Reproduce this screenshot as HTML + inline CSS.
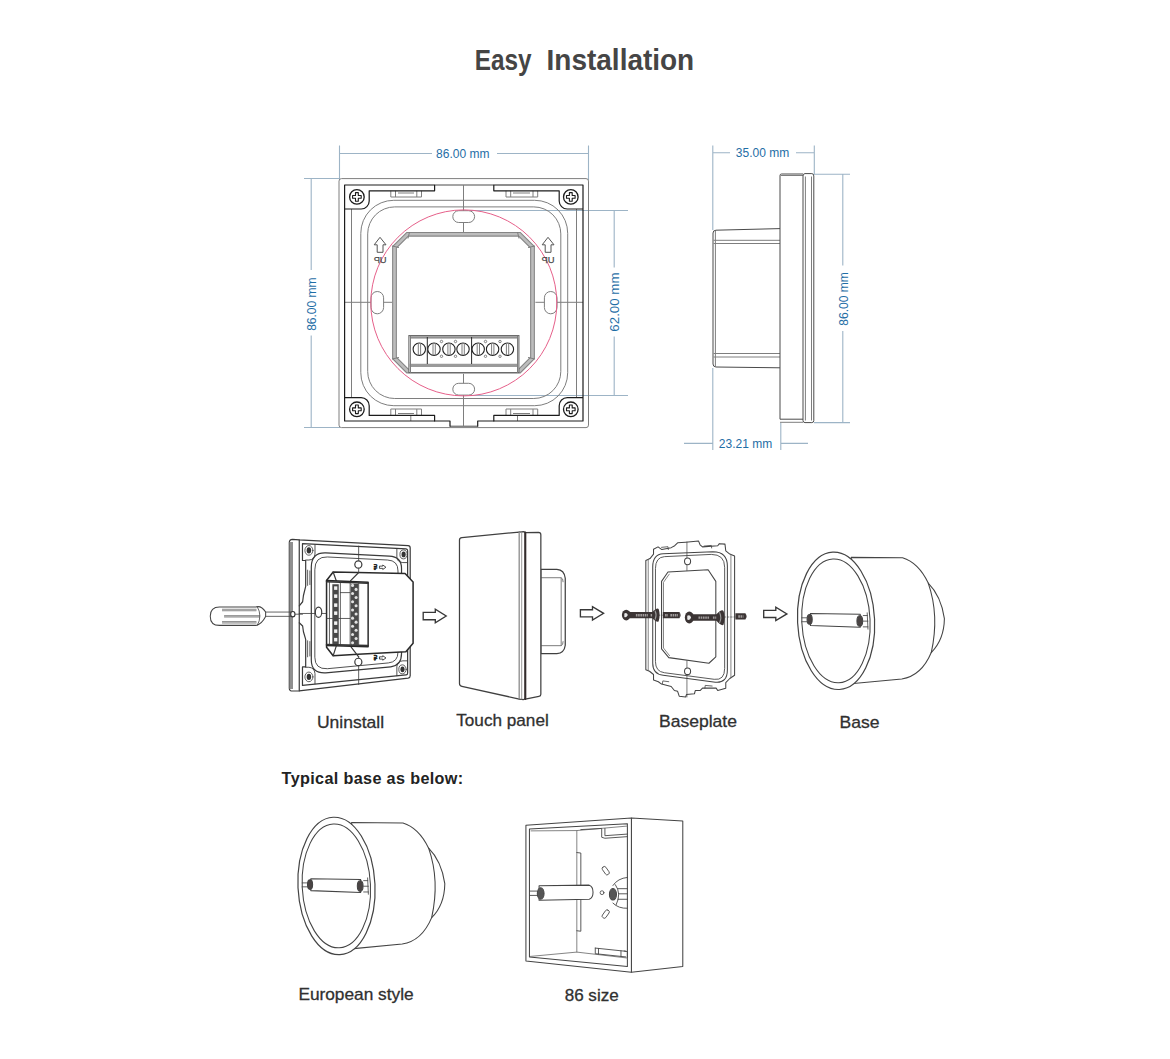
<!DOCTYPE html>
<html lang="en">
<head>
<meta charset="utf-8">
<title>Easy Installation</title>
<style>
html,body{margin:0;padding:0;background:#fff;}
body{width:1170px;height:1059px;overflow:hidden;position:relative;font-family:"Liberation Sans",sans-serif;}
svg{position:absolute;left:0;top:0;display:block;}
svg text{font-family:"Liberation Sans",sans-serif;}
.title{font-weight:700;font-size:29.5px;fill:#454545;}
.dim{font-size:12px;fill:#1f6ea6;}
.dl{stroke:#9db4c6;stroke-width:1.1;fill:none;}
.lbl{font-size:17px;fill:#303030;stroke:#303030;stroke-width:0.3px;}
.bold{font-size:16.2px;font-weight:700;fill:#222;letter-spacing:0.35px;}
.k{stroke:#1c1c1c;stroke-width:1.2;fill:none;stroke-linejoin:round;stroke-linecap:round;}
.g{stroke:#7e7e7e;stroke-width:1;fill:none;stroke-linejoin:round;}
.m{stroke:#4a4a4a;stroke-width:1;fill:none;stroke-linejoin:round;}
.s{stroke:#4a4a4a;stroke-width:1.1;fill:none;stroke-linejoin:round;stroke-linecap:round;}
.sw{stroke:#4a4a4a;stroke-width:1.1;fill:#fff;stroke-linejoin:round;stroke-linecap:round;}
</style>
</head>
<body>
<svg width="1170" height="1059" viewBox="0 0 1170 1059">
<rect width="1170" height="1059" fill="#fff"/>
<text class="title" y="69.5"><tspan x="474.8" textLength="56.8" lengthAdjust="spacingAndGlyphs">Easy</tspan> <tspan x="546.6" textLength="147.6" lengthAdjust="spacingAndGlyphs">Installation</tspan></text>

<!-- ================= FRONT VIEW ================= -->
<g id="front">
  <!-- dimensions -->
  <path class="dl" d="M339.5,145.5V180 M588.5,145.5V180 M339.5,153.5H432 M497,153.5H588.5"/>
  <text class="dim" x="462.8" y="157.5" text-anchor="middle">86.00 mm</text>
  <path class="dl" d="M304,178.5H340 M304,427.5H340 M311.2,178.5V270 M311.2,335.5V427.5"/>
  <text class="dim" transform="translate(315.7,304.2) rotate(-90)" text-anchor="middle">86.00 mm</text>
  <path class="dl" d="M470,210.5H628 M470,395.5H628 M614.2,210.5V267.5 M614.2,336.5V395.5"/>
  <text class="dim" transform="translate(618.8,302.1) rotate(-90)" text-anchor="middle" style="font-size:13.3px">62.00 mm</text>

  <!-- outer thin plate -->
  <rect class="g" x="339" y="178.6" width="249.5" height="249" rx="2.5"/>
  <!-- thin joins of inner square -->
  <path class="m" d="M434.6,185H493.8 M450,426.2H477.7"/>
  <!-- inner thin verticals -->
  <path class="g" d="M351.5,209V397.5 M576.5,209V397.5"/>
  <!-- concentric rounded squares -->
  <rect class="g" x="360.8" y="200.3" width="206.9" height="205.4" rx="33"/>
  <rect class="g" x="367.7" y="206.9" width="193.1" height="191.6" rx="27"/>
  <!-- centre cross lines -->
  <path class="g" d="M463.5,185V232 M463.5,373.8V426 M344.6,302.3H392 M535.4,302.3H583"/>
  <!-- clips -->
  <path class="g" d="M390.8,190.8V197H421.5V190.8 M395.5,190.8V197 M416.8,190.8V197 M398,193H414
                     M506,190.8V197H537.7V190.8 M510.7,190.8V197 M533,190.8V197 M513,193H530
                     M390.8,415.4V409H421.5V415.4 M395.5,415.4V409 M416.8,415.4V409 M398,413.5H414 M410.8,415.4V421
                     M506,415.4V409H537.7V415.4 M510.7,415.4V409 M533,415.4V409 M513,413.5H530 M517.5,415.4V421"/>
  <!-- slots -->
  <rect class="g" x="452.8" y="210.7" width="21.8" height="11.8" rx="5.9" style="fill:#fff"/>
  <rect class="g" x="452.8" y="383.3" width="21.8" height="11.8" rx="5.9" style="fill:#fff"/>
  <rect class="g" x="371" y="291.5" width="12.6" height="22.3" rx="6.3" style="fill:#fff"/>
  <rect class="g" x="544.4" y="291.5" width="12.6" height="22.3" rx="6.3" style="fill:#fff"/>
  <!-- red circle -->
  <circle cx="463.8" cy="302.9" r="93" fill="none" stroke="#e6608a" stroke-width="1"/>
  <!-- octagonal frame -->
  <path d="M407.5,234.3H519.5L532.5,247.3V358L519.5,371H407.5L394.5,358V247.3Z" fill="none" stroke="#858585" stroke-width="4.8" stroke-linejoin="miter"/>
  <path d="M407.5,234.3H519.5L532.5,247.3V358L519.5,371H407.5L394.5,358V247.3Z" fill="none" stroke="#bdbdbd" stroke-width="2.6" stroke-linejoin="miter"/>
  <path class="g" d="M409.5,232L408,238.5 M392,246L399,247.5 M517.5,232L519,238.5 M535,246L528,247.5 M392,359L399,357.5 M535,359L528,357.5"/>
  <!-- terminal block -->
  <rect x="408.9" y="335.6" width="110" height="37" fill="#fff" stroke="#666" stroke-width="1.1"/>
  <path d="M409.5,337H518.4" stroke="#a5a5a5" stroke-width="2.2" fill="none"/>
  <path d="M409.5,365.3H518.4" stroke="#9a9a9a" stroke-width="3.2" fill="none"/>
  <path class="g" d="M410.5,338H517.5 M410.5,335.8V373 M517.5,335.8V373"/>
  <path d="M427.3,337V364 M471.6,337V364" stroke="#2a2a2a" stroke-width="1" fill="none"/>
  <g stroke="#222" stroke-width="1.1" fill="#fff">
    <circle cx="419.3" cy="349.2" r="6.2"/><circle cx="434" cy="349.2" r="6.2"/><circle cx="448.9" cy="349.2" r="6.2"/><circle cx="463" cy="349.2" r="6.2"/>
    <circle cx="478.2" cy="349.2" r="6.2"/><circle cx="492.6" cy="349.2" r="6.2"/><circle cx="507.4" cy="349.2" r="6.2"/>
  </g>
  <path class="g" d="M418.3,343.2V355.2 M420.6,343.2V355.2 M433,343.2V355.2 M435.3,343.2V355.2 M447.9,343.2V355.2 M450.2,343.2V355.2 M462,343.2V355.2 M464.3,343.2V355.2 M477.2,343.2V355.2 M479.5,343.2V355.2 M491.6,343.2V355.2 M493.9,343.2V355.2 M506.4,343.2V355.2 M508.7,343.2V355.2"/>
  <g class="g" stroke-width="0.7">
    <circle cx="441.5" cy="341.5" r="1.2"/><circle cx="455.5" cy="341.5" r="1.2"/><circle cx="441.5" cy="356.3" r="1.2"/><circle cx="455.5" cy="356.3" r="1.2"/>
    <circle cx="485.5" cy="341.5" r="1.2"/><circle cx="500" cy="341.5" r="1.2"/><circle cx="485.5" cy="356.3" r="1.2"/><circle cx="500" cy="356.3" r="1.2"/>
  </g>
  <!-- UP arrows -->
  <g stroke="#555" stroke-width="1" fill="none" stroke-linejoin="miter">
    <path d="M380,237.3L386,244.8H383V252.3H377.2V244.8H374.2Z"/>
    <path d="M548,237.3L554,244.8H551V252.3H545.2V244.8H542.2Z"/>
  </g>
  <text transform="translate(386.6,263.2) scale(-1,1)" font-size="9.3" fill="#4a4a4a" stroke="#4a4a4a" stroke-width="0.25">UP</text>
  <text transform="translate(554.4,263.2) scale(-1,1)" font-size="9.3" fill="#4a4a4a" stroke="#4a4a4a" stroke-width="0.25">UP</text>
  <!-- thick corner brackets -->
  <path class="k" d="M344.6,209H361.2A8,8 0 0 0 369.2,201V190.8H434.6V185H344.6V421H434.6V415.4H369.2V405.7A8,8 0 0 0 361.2,397.7H344.6"/>
  <path class="k" d="M583,209H567.2A8,8 0 0 1 559.2,201V190.8H493.8V185H583V421H493.8V415.4H559.2V405.7A8,8 0 0 1 567.2,397.7H583"/>
  <path class="k" d="M434.6,421H450V426.2 M477.7,426.2V421H493.8"/>
  <!-- screws -->
  <g transform="translate(356.9,196.9)"><circle cx="0" cy="0" r="7.3" fill="#fff" stroke="#1c1c1c" stroke-width="1.3"/><path d="M-1.4,-4.3H1.4V-1.4H4.3V1.4H1.4V4.3H-1.4V1.4H-4.3V-1.4H-1.4Z" fill="none" stroke="#1c1c1c" stroke-width="1.1" stroke-linejoin="round"/></g>
  <g transform="translate(570.8,196.9)"><circle cx="0" cy="0" r="7.3" fill="#fff" stroke="#1c1c1c" stroke-width="1.3"/><path d="M-1.4,-4.3H1.4V-1.4H4.3V1.4H1.4V4.3H-1.4V1.4H-4.3V-1.4H-1.4Z" fill="none" stroke="#1c1c1c" stroke-width="1.1" stroke-linejoin="round"/></g>
  <g transform="translate(356.9,409.3)"><circle cx="0" cy="0" r="7.3" fill="#fff" stroke="#1c1c1c" stroke-width="1.3"/><path d="M-1.4,-4.3H1.4V-1.4H4.3V1.4H1.4V4.3H-1.4V1.4H-4.3V-1.4H-1.4Z" fill="none" stroke="#1c1c1c" stroke-width="1.1" stroke-linejoin="round"/></g>
  <g transform="translate(570.8,409.3)"><circle cx="0" cy="0" r="7.3" fill="#fff" stroke="#1c1c1c" stroke-width="1.3"/><path d="M-1.4,-4.3H1.4V-1.4H4.3V1.4H1.4V4.3H-1.4V1.4H-4.3V-1.4H-1.4Z" fill="none" stroke="#1c1c1c" stroke-width="1.1" stroke-linejoin="round"/></g>
</g>

<!-- ================= SIDE VIEW ================= -->
<g id="side">
  <path class="dl" d="M712.8,145.5V230 M814.3,145.5V175 M712.8,152.8H730 M796,152.8H814.3"/>
  <text class="dim" x="762.5" y="157" text-anchor="middle">35.00 mm</text>
  <path class="dl" d="M815,174.2H850 M814,422.6H850 M842.8,174.2V265.5 M842.8,331V422.6"/>
  <text class="dim" transform="translate(848,299) rotate(-90)" text-anchor="middle">86.00 mm</text>
  <path class="dl" d="M712.8,368V450 M780.8,423V450 M684,443.4H712.8 M780.8,443.4H808"/>
  <text class="dim" x="745.5" y="448" text-anchor="middle">23.21 mm</text>
  <!-- back box -->
  <path class="m" d="M780,228.6L716,230.2Q713,230.3 713,233V364Q713,366.8 716,367L780,367.8"/>
  <path class="g" d="M715.4,231V366.5 M713.5,240.3H780 M713.5,243.5H780 M713.5,353.5H780 M713.5,357H780"/>
  <!-- front panel -->
  <path class="m" d="M803,174H781.5Q780,174 780,175.5V419.2H803"/>
  <path class="g" d="M780.5,175.5H803 M780,422.3H803"/>
  <path class="m" d="M805,173.6H811.8Q813.8,173.6 813.8,176V420.5Q813.8,422.6 811.8,422.6H805Q803,422.6 803,420.5V176Q803,173.6 805,173.6Z"/>
  <path class="g" d="M805.4,176.5V420.5 M811.5,176.5V420.5"/>
</g>
<!--SIDE-->
<!-- ================= STEP 1: UNINSTALL ================= -->
<g id="uninstall" transform="translate(280,530) scale(0.16054)" stroke="#3a3a3a" stroke-width="7.5" fill="none" stroke-linejoin="round" stroke-linecap="round">
  <!-- glass slab + plate -->
  <path fill="#fff" d="M120,62 L78,58 Q58,58 58,78 V985 Q58,1003 78,1003 L120,1002 L798,923 Q811,921 811,908 V112 Q811,98 798,97 Z"/>
  <path d="M120,62 V1002" />
  <path stroke="#8f8f8f" stroke-width="22" stroke-linecap="butt" d="M70,75 V990"/>
  <!-- frame C -->
  <path d="M120,472 L141,447 L146,408 L160,351 V190 H140 V85 L785,118 Q795,119 795,130 V890 Q795,902 785,903 L140,968 V853 H160 V681 L146,634 L141,598 L120,578"/>
  <path d="M172,250 V345 M186,255 V340 M172,690 V790 M186,695 V785" stroke-width="5"/>
  <!-- screw bosses -->
  <path d="M218,92 V150 Q215,185 180,187 H160 M160,855 H180 Q215,858 218,895 V958 M728,116 V170 Q730,200 765,203 H795 M795,815 H765 Q730,818 728,850 V908" stroke-width="5.5"/>
  <g fill="#333" stroke="none">
    <ellipse cx="180" cy="127" rx="14" ry="19"/><ellipse cx="770" cy="152" rx="13" ry="18"/><ellipse cx="180" cy="915" rx="14" ry="19"/><ellipse cx="763" cy="868" rx="13" ry="18"/>
  </g>
  <g stroke-width="5">
    <ellipse cx="180" cy="127" rx="25" ry="30"/><ellipse cx="770" cy="152" rx="23" ry="28"/><ellipse cx="180" cy="915" rx="25" ry="30"/><ellipse cx="763" cy="868" rx="23" ry="28"/>
  </g>
  <!-- rounded rect D -->
  <path d="M195,230 Q195,140 285,143 L680,163 Q757,166 757,240 V770 Q757,845 690,852 L285,890 Q195,895 195,810 Z"/>
  <path d="M217,245 Q217,165 295,168 L670,187 Q735,190 735,255 V760 Q735,822 675,828 L295,864 Q217,868 217,795 Z" stroke-width="5.5"/>
  <!-- centre lines and slots -->
  <path d="M490,100 V192 M490,240 V265 M490,790 V800 M490,845 V962 M120,520 H220 M260,520 H287" stroke-width="5"/>
  <ellipse cx="488" cy="215" rx="22" ry="23" fill="#fff"/><ellipse cx="488" cy="822" rx="22" ry="23" fill="#fff"/><ellipse cx="240" cy="512" rx="20" ry="32" fill="#fff"/>
  <!-- housing -->
  <path fill="#fff" stroke="#2a2a2a" stroke-width="9.5" d="M331,262 L779,271 L829,324 V706 L784,759 L485,774 L331,783 L290,730 V315 Z"/>
  <path d="M490,265 L440,315 M440,725 L490,790 M331,262 L350,315 M331,783 L350,725" />
  <path d="M290,315 L549,325 V727 L290,720" stroke="#262626" stroke-width="9"/>
  <path d="M290,322 L549,332 M290,713 L549,720" stroke="#333" stroke-width="10"/>
  <!-- terminal internals -->
  <path d="M308,325 V715 M376,330 V718 M437,332 V720 M490,334 V722 M376,390 H437 M290,551 H437" stroke-width="5"/>
  <rect x="326" y="338" width="40" height="372" fill="#484848" stroke="none"/>
  <g fill="#f2f2f2" stroke="none"><rect x="337" y="351" width="20" height="22"/><rect x="337" y="401" width="20" height="22"/><rect x="337" y="457" width="20" height="22"/><rect x="337" y="507" width="20" height="22"/><rect x="337" y="569" width="20" height="22"/><rect x="337" y="619" width="20" height="22"/><rect x="337" y="672" width="20" height="22"/></g>
  <rect x="440" y="336" width="48" height="382" fill="#4a4a4a" stroke="none"/>
  <g fill="#e2e2e2" stroke="none"><circle cx="452" cy="345" r="9.5"/><circle cx="474" cy="370" r="9.5"/><circle cx="452" cy="396" r="9.5"/><circle cx="474" cy="421" r="9.5"/><circle cx="452" cy="447" r="9.5"/><circle cx="474" cy="472" r="9.5"/><circle cx="452" cy="498" r="9.5"/><circle cx="474" cy="523" r="9.5"/><circle cx="452" cy="549" r="9.5"/><circle cx="474" cy="574" r="9.5"/><circle cx="452" cy="600" r="9.5"/><circle cx="474" cy="625" r="9.5"/><circle cx="452" cy="651" r="9.5"/><circle cx="474" cy="676" r="9.5"/><circle cx="452" cy="702" r="9.5"/></g>
  <!-- direction marks -->
  <path d="M622,225 H640 V218 L660,232 L640,246 V239 H622 Z M622,790 H640 V783 L660,797 L640,811 V804 H622 Z" stroke="#222" stroke-width="5"/>
  <text transform="translate(603,212) rotate(90) scale(1,-1)" font-size="27" font-weight="700" fill="#1a1a1a" stroke="#1a1a1a" stroke-width="3">UP</text>
  <text transform="translate(603,777) rotate(90) scale(1,-1)" font-size="27" font-weight="700" fill="#1a1a1a" stroke="#1a1a1a" stroke-width="3">UP</text>
</g>
<!-- screwdriver -->
<g id="driver" transform="translate(200,590) scale(0.10256)" stroke="#444" stroke-width="10" fill="none" stroke-linejoin="round" stroke-linecap="round">
  <path d="M640,215 H885 M640,257 H885 M930,236 H1000" stroke-width="8"/>
  <path fill="#fff" d="M190,165 H545 Q600,150 640,215 V258 Q600,335 545,345 H190 Q100,345 100,255 Q100,165 190,165 Z"/>
  <path d="M215,195 H550 M235,255 H585 M215,315 H550" stroke="#8a8a8a" stroke-width="24" stroke-linecap="butt"/>
  <path d="M215,195 H550 M235,255 H585 M215,315 H550" stroke="#c8c8c8" stroke-width="8" stroke-linecap="butt"/>
  <path d="M558,162 Q612,252 558,346" stroke-width="8"/>
  <ellipse cx="905" cy="236" rx="21" ry="26" fill="#fff" stroke="#333" stroke-width="11"/>
</g>
<text class="lbl" x="350.5" y="727.6" text-anchor="middle" textLength="67.2" lengthAdjust="spacingAndGlyphs">Uninstall</text>

<!-- arrows -->
<g stroke="#383838" stroke-width="1.35" fill="#fff" stroke-linejoin="miter">
  <path d="M423.2,612.3H435.3V609.2L446.2,616L435.3,622.8V619.7H423.2Z"/>
  <path d="M580.4,609.7H592.5V606.6L603.6,613.3L592.5,620V616.9H580.4Z"/>
  <path d="M763.7,610.3H775.8V607.2L786.9,613.9L775.8,620.6V617.5H763.7Z"/>
</g>

<!-- ================= STEP 2: TOUCH PANEL ================= -->
<g id="touch" transform="translate(420,510) scale(0.2393)" stroke="#404040" stroke-width="5.2" fill="none" stroke-linejoin="round" stroke-linecap="round">
  <path fill="#fff" d="M505,248 H572 Q603,250 607,285 V565 Q603,598 572,600 H505Z"/>
  <path d="M505,283 H590 Q598,285 598,300 M505,567 H590 Q598,565 598,550 M590,285 V565" stroke-width="3.6" stroke="#666"/>
  <path fill="#fff" d="M440,95 L495,93 Q505,93 505,103 V770 Q505,778 497,779 L440,790Z"/>
  <path fill="#fff" d="M415,92 L432,90 Q440,90 440,98 V785 Q440,792 432,792 L415,790Z"/>
  <path d="M440,94 V790" stroke="#332c2c" stroke-width="8.5"/>
  <path d="M425,92 V790" stroke="#8a8a8a" stroke-width="3.6"/>
  <path fill="#fff" d="M175,115 L415,92 V790 L175,737 Q165,735 165,725 V125 Q165,116 175,115Z"/>
  <path d="M415,94 V788" stroke="#fff" stroke-width="6" stroke-linecap="butt"/>
  <path d="M415,92 V790" stroke="#808080" stroke-width="4"/>
</g>
<text class="lbl" x="502.5" y="726.2" text-anchor="middle" textLength="92.5" lengthAdjust="spacingAndGlyphs">Touch panel</text>
<!-- ================= STEP 3: BASEPLATE ================= -->
<g id="baseplate" transform="translate(615,530) scale(0.16054)" stroke="#444" stroke-width="6.5" fill="none" stroke-linejoin="round" stroke-linecap="round">
  <path fill="#fff" d="M192,190 L218,178 L240,150 V120 L268,105 L292,122 L350,110 L372,98 L390,80 L440,76 L520,68 L530,92 L545,105 L640,98 L650,85 L685,88 L690,130 L715,150 L745,162 V905 L715,925 L690,950 L690,985 L640,1000 L630,985 L545,985 L530,1000 L500,1000 L495,1020 L445,1025 L440,1040 L400,1035 L390,1005 L370,1000 L350,975 L290,960 L270,945 L240,935 V900 L215,880 L192,870 Z"/>
  <path d="M207,185 V876 M722,155 V920" stroke-width="5" stroke="#666"/>
  <path d="M290,108 L330,104 L332,122 M555,100 L600,96 L602,112 M295,958 L298,940 L335,945 M560,985 L562,968 L605,972" stroke-width="5"/>
  <path d="M235,230 Q235,152 300,148 L610,135 Q700,135 700,225 V870 Q700,955 625,948 L300,905 Q235,898 235,830 Z"/>
  <path d="M252,238 Q252,170 308,166 L600,152 Q683,152 683,232 V862 Q683,938 618,930 L308,889 Q252,882 252,822 Z" stroke-width="5.5"/>
  <path d="M330,262 L580,248 L628,320 V790 L585,830 L335,795 L290,740 V320 Z"/>
  <path d="M338,275 L302,326 V735 L340,783" stroke-width="5" stroke="#666"/>
  <path d="M448,75 V175 M448,215 V252 M448,815 V860 M448,900 V1040" stroke-width="4.5"/>
  <ellipse cx="452" cy="195" rx="19" ry="21" fill="#fff"/><ellipse cx="452" cy="880" rx="19" ry="21" fill="#fff"/>
  <!-- screws -->
  <g stroke-linecap="butt">
    <path d="M268,531 H297 M678,542 H750" stroke-width="4" stroke-dasharray="14 6"/>
    <path d="M85,530 H250 M298,530 H402" stroke="#3b3434" stroke-width="40"/>
    <path d="M130,531 H205 M222,531 H240 M312,531 H330 M345,531 H392" stroke="#a09c9c" stroke-width="15" stroke-dasharray="10 4"/>
    <path d="M480,545 H650 M750,538 H812" stroke="#3b3434" stroke-width="40"/>
    <path d="M520,546 H590 M610,546 H632 M768,539 H800" stroke="#a09c9c" stroke-width="15" stroke-dasharray="10 4"/>
  </g>
  <g fill="#3b3434" stroke="none">
    <ellipse cx="70" cy="530" rx="27" ry="33"/><ellipse cx="463" cy="545" rx="28" ry="38"/>
    <path d="M232,512 Q262,480 272,492 Q284,530 272,568 Q262,580 232,548Z M632,525 Q664,490 676,504 Q690,545 676,590 Q664,602 632,566Z"/>
    <path d="M400,510 Q418,530 400,550Z M810,518 Q830,538 810,558Z"/>
  </g>
  <path d="M250,505 Q262,530 250,556 M652,515 Q666,545 652,576" fill="none" stroke="#999" stroke-width="7"/>
  <path d="M58,520 Q74,512 80,530 Q74,548 58,542Z M450,534 Q468,525 474,545 Q468,566 450,558Z" fill="#e8e8e8" stroke="none"/>
</g>
<text class="lbl" x="698" y="727" text-anchor="middle" textLength="78" lengthAdjust="spacingAndGlyphs">Baseplate</text>

<!-- ================= STEP 4: BASE ================= -->
<g id="base" transform="translate(790,540) scale(0.15108)" stroke="#444" stroke-width="7" fill="none" stroke-linejoin="round" stroke-linecap="round">
  <path fill="#fff" d="M405,115 L745,118 Q850,150 915,285 Q990,500 935,745 Q870,900 740,920 L420,950Z"/>
  <path d="M915,285 Q1000,370 1022,520 Q1020,660 935,745"/>
  <ellipse cx="305" cy="535" rx="255" ry="455" transform="rotate(-2.8 305 535)" fill="#fff" stroke-width="8"/>
  <ellipse cx="304" cy="535" rx="226" ry="410" transform="rotate(-2.8 304 535)" />
  <path fill="#fff" d="M135,487 L465,492 V578 L135,566Z"/>
  <path d="M78,515 H110 M78,541 H110 M485,500 H512 M485,537 H516 M485,575 H516 M511,482 L516,590" stroke-width="5.5"/>
  <ellipse cx="130" cy="526" rx="17" ry="32" fill="#4a4444" stroke="#444"/>
  <ellipse cx="462" cy="536" rx="19" ry="35" fill="#4a4444" stroke="#444"/>
</g>
<text class="lbl" x="859.5" y="727.6" text-anchor="middle" textLength="40" lengthAdjust="spacingAndGlyphs">Base</text>
<!--STEPS-->
<!-- ================= TYPICAL BASES ================= -->
<text class="bold" x="281.6" y="784.4">Typical base as below:</text>
<g id="euro" transform="translate(290.4,805.1) scale(0.15108)" stroke="#444" stroke-width="7" fill="none" stroke-linejoin="round" stroke-linecap="round">
  <path fill="#fff" d="M405,115 L745,118 Q850,150 915,285 Q990,500 935,745 Q870,900 740,920 L420,950Z"/>
  <path d="M915,285 Q1000,370 1022,520 Q1020,660 935,745"/>
  <ellipse cx="305" cy="535" rx="255" ry="455" transform="rotate(-2.8 305 535)" fill="#fff" stroke-width="8"/>
  <ellipse cx="304" cy="535" rx="226" ry="410" transform="rotate(-2.8 304 535)" />
  <path fill="#fff" d="M135,487 L465,492 V578 L135,566Z"/>
  <path d="M78,515 H110 M78,541 H110 M485,500 H512 M485,537 H516 M485,575 H516 M511,482 L516,590" stroke-width="5.5"/>
  <ellipse cx="130" cy="526" rx="17" ry="32" fill="#4a4444" stroke="#444"/>
  <ellipse cx="462" cy="536" rx="19" ry="35" fill="#4a4444" stroke="#444"/>
</g>
<text class="lbl" x="356" y="999.6" text-anchor="middle" textLength="115.2" lengthAdjust="spacingAndGlyphs">European style</text>
<g id="box86" transform="translate(515,810) scale(0.16056)" stroke="#444" stroke-width="6.5" fill="none" stroke-linejoin="round" stroke-linecap="round">
  <path fill="#fff" d="M725,50 L1045,68 V975 L725,1010Z"/>
  <path fill="#fff" d="M68,95 L725,50 V1010 L68,940Z"/>
  <path d="M90,118 L700,85 V975 L90,915Z"/>
  <path d="M100,130 L385,128 L700,100 M385,128 V885 M95,912 L385,885 L700,922" stroke-width="5" stroke="#666"/>
  <path d="M410,122 L540,115 V170 L560,176 L700,166 M560,115 V160 L700,150" stroke-width="5.5"/>
  <path d="M500,860 V895 L690,915 M500,860 L690,880 M520,863 V897 M660,877 V912 M680,878 L700,882 V917" stroke-width="5.5"/>
  <path d="M385,265 L410,268 V470 M410,560 V755 L385,752" stroke-width="5.5"/>
  <path fill="#fff" d="M150,472 L462,468 Q486,475 486,512 Q486,548 462,556 L150,562Z"/>
  <path d="M90,505 H135 M90,532 H135" stroke-width="5.5"/>
  <ellipse cx="160" cy="520" rx="21" ry="36" fill="#555" stroke="#444"/>
  <circle cx="542" cy="515" r="12" stroke-width="5"/>
  <rect x="552" y="350" width="26" height="56" rx="11" transform="rotate(-35 565 378)" stroke-width="5"/>
  <rect x="552" y="620" width="26" height="56" rx="11" transform="rotate(35 565 648)" stroke-width="5"/>
  <path d="M610,470 Q640,425 700,420 M610,580 Q645,615 700,612 M640,490 H700 M645,522 H700 M640,556 H700 M625,465 Q665,520 630,590" stroke-width="5.5"/>
  <ellipse cx="610" cy="525" rx="22" ry="36" fill="#555" stroke="#444"/>
</g>
<text class="lbl" x="591.7" y="1001.2" text-anchor="middle" textLength="54" lengthAdjust="spacingAndGlyphs">86 size</text>
<!--BASES-->
</svg>
</body>
</html>
